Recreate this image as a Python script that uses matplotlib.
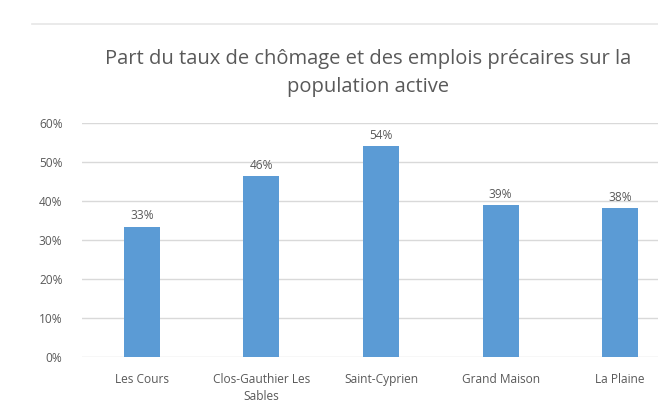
import matplotlib
matplotlib.use("Agg")
import matplotlib.pyplot as plt
from matplotlib.lines import Line2D

categories = ["Les Cours", "Clos-Gauthier Les\nSables", "Saint-Cyprien", "Grand Maison", "La Plaine"]
values = [0.334, 0.464, 0.541, 0.39, 0.382]
yticks = [0, 0.1, 0.2, 0.3, 0.4, 0.5, 0.6]
ytick_labels = ["0%", "10%", "20%", "30%", "40%", "50%", "60%"]
title = "Part du taux de chômage et des emplois précaires sur la\npopulation active"

plt.rcParams['font.family'] = ['Open Sans', 'DejaVu Sans']
W, H = 658, 405
fig = plt.figure(figsize=(W / 100, H / 100), dpi=100)
fig.patch.set_facecolor("white")

left = 82 / W
right = 680 / W
bottom = (H - 357.3) / H
top = (H - 123.3) / H
ax = fig.add_axes([left, bottom, right - left, top - bottom])
ax.set_xlim(-0.5, len(categories) - 0.5)
ax.set_ylim(0, 0.6)

x = range(len(categories))
ax.bar(x, values, width=0.3, color="#5b9bd5", zorder=3)
for xi, v in zip(x, values):
    ax.text(xi, v + 0.012, f"{round(v*100):d}%", ha="center", va="bottom",
            fontsize=8.6, color="#595959")

ax.set_yticks(yticks)
ax.set_yticklabels(ytick_labels)
ax.set_xticks(list(x))
ax.set_xticklabels(categories, linespacing=1.4)
ax.tick_params(axis="both", length=0, labelsize=8.6, labelcolor="#595959")
ax.tick_params(axis="y", pad=14)
ax.tick_params(axis="x", pad=11.5)
ax.grid(axis="y", color="#d9d9d9", linewidth=1, zorder=0)
for s in ax.spines.values():
    s.set_visible(False)

fig.text(368 / W, 1 - 73 / H, title, ha="center", va="center", fontsize=14.5,
         color="#595959", linespacing=1.5)

fig.add_artist(Line2D([32 / W, 1], [1 - 24 / H, 1 - 24 / H], color="#e6e6e6", linewidth=1.2,
                      transform=fig.transFigure))

fig.savefig("out.png", dpi=100, facecolor="white")
